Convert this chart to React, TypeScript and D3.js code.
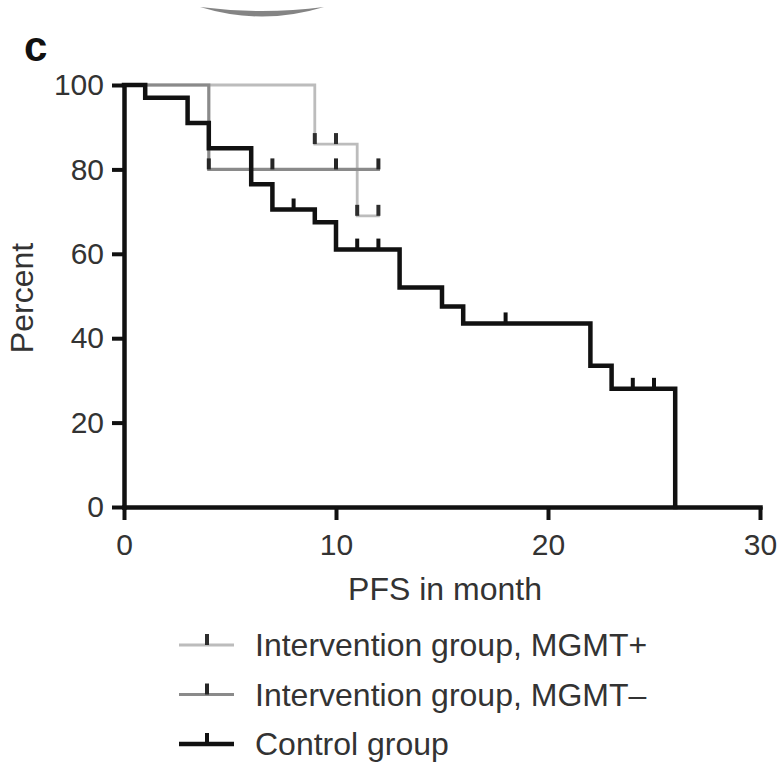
import React, { useRef, useEffect } from "react";
import * as d3 from "d3";

// Kaplan-Meier PFS curves
const controlTime = [0, 1, 3, 4, 6, 7, 9, 10, 13, 15, 16, 22, 23, 26];
const controlPct = [100, 97, 91, 85, 76.5, 70.5, 67.5, 61, 52, 47.5, 43.5, 33.5, 28, 0];
const controlCensor = [8, 11, 12, 18, 24, 25];
const controlEnd = 26;

const mgmtPosTime = [0, 9, 11];
const mgmtPosPct = [100, 86, 69];
const mgmtPosCensor = [9, 10, 11, 12];
const mgmtPosEnd = 12;

const mgmtNegTime = [0, 4];
const mgmtNegPct = [100, 80];
const mgmtNegCensor = [4, 7, 10, 12];
const mgmtNegEnd = 12;

const xTicks = [0, 10, 20, 30];
const yTicks = [0, 20, 40, 60, 80, 100];
const legendLabels = [
  "Intervention group, MGMT+",
  "Intervention group, MGMT–",
  "Control group",
];

const FONT = "'Liberation Sans', Arial, Helvetica, sans-serif";

const App = () => {
  const svgRef = useRef(null);

  useEffect(() => {
    const svg = d3.select(svgRef.current);
    svg.selectAll("*").remove();

    const x = d3.scaleLinear().domain([0, 30]).range([124, 760]);
    const y = d3.scaleLinear().domain([0, 100]).range([507, 85]);

    const series = [
      {
        time: mgmtPosTime, pct: mgmtPosPct, censor: mgmtPosCensor, end: mgmtPosEnd,
        color: "#bcbcbc", width: 2.8, tickColor: "#2e2e2e",
      },
      {
        time: mgmtNegTime, pct: mgmtNegPct, censor: mgmtNegCensor, end: mgmtNegEnd,
        color: "#8a8a8a", width: 3.2, tickColor: "#262626",
      },
      {
        time: controlTime, pct: controlPct, censor: controlCensor, end: controlEnd,
        color: "#111", width: 4.5, tickColor: "#111",
      },
    ];

    // piece of the previous panel peeking in at the top
    svg.append("path")
      .attr("d", "M200,7 Q262,26 324,7 Q262,15 200,7 Z")
      .attr("fill", "#6f6f6f")
      .attr("opacity", 0.85);

    svg.append("text")
      .attr("x", 24)
      .attr("y", 61)
      .attr("font-family", FONT)
      .attr("font-weight", "bold")
      .attr("font-size", 42)
      .attr("fill", "#111")
      .text("c");

    const gx = svg.append("g")
      .attr("transform", `translate(0,${y(0)})`)
      .call(d3.axisBottom(x).tickValues(xTicks).tickSize(13).tickSizeOuter(0).tickPadding(14));
    const gy = svg.append("g")
      .attr("transform", `translate(${x(0)},0)`)
      .call(d3.axisLeft(y).tickValues(yTicks).tickSize(12).tickSizeOuter(0).tickPadding(8));

    [gx, gy].forEach((g) => {
      g.select(".domain").attr("stroke", "#111").attr("stroke-width", 4.5).attr("stroke-linecap", "square");
      g.selectAll(".tick line").attr("stroke", "#111").attr("stroke-width", 4);
      g.selectAll(".tick text")
        .attr("font-family", FONT)
        .attr("font-size", 30)
        .attr("fill", "#333");
    });

    const stepAt = (s, t) => {
      let v = s.pct[0];
      s.time.forEach((tt, i) => { if (tt <= t) v = s.pct[i]; });
      return v;
    };

    const line = d3.line()
      .x((d) => x(d[0]))
      .y((d) => y(d[1]))
      .curve(d3.curveStepAfter);

    series.forEach((s) => {
      const pts = s.time.map((t, i) => [t, s.pct[i]]);
      pts.push([s.end, s.pct[s.pct.length - 1]]);
      svg.append("path")
        .datum(pts)
        .attr("fill", "none")
        .attr("stroke", s.color)
        .attr("stroke-width", s.width)
        .attr("stroke-linejoin", "miter")
        .attr("stroke-linecap", "square")
        .attr("d", line);

      svg.append("g")
        .selectAll("line")
        .data(s.censor)
        .join("line")
        .attr("x1", (d) => x(d))
        .attr("x2", (d) => x(d))
        .attr("y1", (d) => y(stepAt(s, d)))
        .attr("y2", (d) => y(stepAt(s, d)) - 11)
        .attr("stroke", s.tickColor)
        .attr("stroke-width", 4);
    });

    svg.append("text")
      .attr("transform", "translate(33,298) rotate(-90)")
      .attr("text-anchor", "middle")
      .attr("font-family", FONT)
      .attr("font-size", 32)
      .attr("fill", "#333")
      .text("Percent");

    svg.append("text")
      .attr("x", 445)
      .attr("y", 600)
      .attr("text-anchor", "middle")
      .attr("font-family", FONT)
      .attr("font-size", 32)
      .attr("fill", "#333")
      .text("PFS in month");

    const legendY = d3.scalePoint().domain(legendLabels).range([645, 744]);
    const legend = svg.append("g");
    legendLabels.forEach((lab, i) => {
      const s = series[i];
      const ly = legendY(lab);
      legend.append("line")
        .attr("x1", 179).attr("x2", 234)
        .attr("y1", ly).attr("y2", ly)
        .attr("stroke", s.color)
        .attr("stroke-width", s.width);
      legend.append("line")
        .attr("x1", 207).attr("x2", 207)
        .attr("y1", ly).attr("y2", ly - 11)
        .attr("stroke", s.tickColor)
        .attr("stroke-width", 4);
      legend.append("text")
        .attr("x", 255)
        .attr("y", ly + 11)
        .attr("font-family", FONT)
        .attr("font-size", 32)
        .attr("fill", "#333")
        .text(lab);
    });
  }, []);

  return (
    <svg
      ref={svgRef}
      width={779}
      height={763}
      style={{ position: "absolute", left: 0, top: 0, background: "#fff" }}
    ></svg>
  );
};

export default App;
